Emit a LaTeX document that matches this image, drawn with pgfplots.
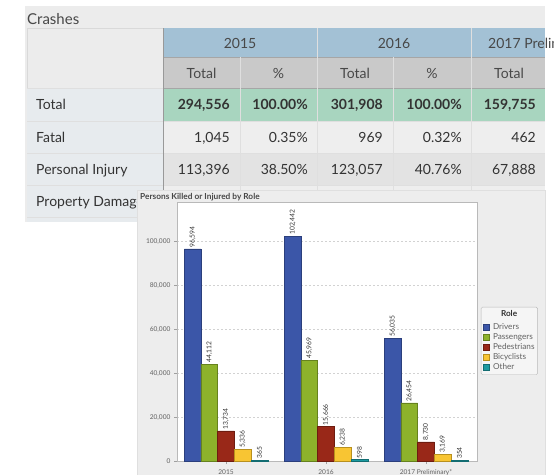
\documentclass[border=0pt]{standalone}
\usepackage{pgfplots}
\pgfplotsset{compat=1.18}
\usepackage{fontspec}
\setmainfont{Lato}
\definecolor{pnl}{HTML}{ECECEC}
\definecolor{pnltwo}{HTML}{EDEDED}
\definecolor{hblue}{HTML}{A3C1D5}
\definecolor{hgray}{HTML}{C9C9C9}
\definecolor{tgreen}{HTML}{A8D5BF}
\definecolor{lcol}{HTML}{E7EBEE}
\definecolor{rowa}{HTML}{EEEEEE}
\definecolor{rowb}{HTML}{E3E3E3}
\definecolor{txt}{HTML}{333333}
\definecolor{txth}{HTML}{484848}
\definecolor{cDrv}{HTML}{3B56A8}
\definecolor{cDrvD}{HTML}{2B3F7C}
\definecolor{cPas}{HTML}{8DB22B}
\definecolor{cPasD}{HTML}{66821E}
\definecolor{cPed}{HTML}{992818}
\definecolor{cPedD}{HTML}{6E1C10}
\definecolor{cBic}{HTML}{F8C533}
\definecolor{cBicD}{HTML}{B8901E}
\definecolor{cOth}{HTML}{1C9AA0}
\definecolor{cOthD}{HTML}{136D72}
\newcommand{\tfont}{\fontsize{14}{16}\selectfont}
\newcommand{\tcell}[3]{\node[anchor=base east,inner sep=0,text=txt,font=\tfont] at (#1,#2) {#3};}
\newcommand{\hcell}[3]{\node[anchor=base,inner sep=0,text=txth,font=\tfont] at (#1,#2) {#3};}
\pgfplotsset{sqleg/.style={legend image code/.code={\draw[##1,sharp corners,line width=0.4pt] (0pt,-3pt) rectangle (6pt,3pt);}}}
\begin{document}
\begin{tikzpicture}
\useasboundingbox (0,0) rectangle (554pt,-474pt);
\clip (0,0) rectangle (554pt,-474pt);
\fill[white] (0,0) rectangle (554pt,-474pt);
\begin{scope}[x=1pt,y=-1pt]
 \fill[pnl] (25,6) rectangle (545,222);
 \node[anchor=base west,inner sep=0,font=\fontsize{15}{18}\selectfont,text=txth] at (27,24) {Crashes};
 % cells
 \fill[pnl] (27,28) rectangle (163,88);
 \draw[gray!30,line width=0.6pt] (27,28) rectangle (163,88);
 \fill[hblue] (163,28) rectangle (545,57);
 \fill[hgray] (163,57) rectangle (545,88);
 \fill[tgreen] (163,88) rectangle (545,121);
 \fill[rowa] (163,121) rectangle (545,153);
 \fill[rowb] (163,153) rectangle (545,185);
 \fill[rowa] (163,185) rectangle (545,217);
 \fill[rowb] (163,217) rectangle (545,222);
 \fill[lcol] (27,88) rectangle (163,222);
 % lines
 \draw[gray!70,line width=0.8pt] (163,57) -- (545,57);
 \draw[gray!70,line width=0.8pt] (163,88) -- (545,88);
 \foreach \yy in {121,153,185,217} {\draw[gray!25,line width=0.6pt] (27,\yy) -- (545,\yy);}
 \draw[gray!25,line width=0.6pt] (27,88) -- (163,88);
 \foreach \xx in {317,471} {\draw[white!75!gray,line width=0.7pt] (\xx,28) -- (\xx,222);}
 \foreach \xx in {240,393} {\draw[white!75!gray,line width=0.7pt] (\xx,57) -- (\xx,222);}
 \draw[gray!80,line width=1pt] (163,28) -- (163,222);
 % header text
 \hcell{240}{48}{2015}
 \hcell{394}{48}{2016}
 \node[anchor=base west,inner sep=0,text=txth,font=\tfont] at (488,48) {2017 Preliminary*};
 \hcell{201.5}{78}{Total}
 \hcell{278.5}{78}{\%}
 \hcell{355}{78}{Total}
 \hcell{432}{78}{\%}
 \hcell{509}{78}{Total}
 % row labels
 \foreach \yy/\lab in {109.5/Total,142/Fatal,174/Personal Injury,206/Property Damage}
   {\node[anchor=base west,inner sep=0,text=txt,font=\tfont] at (36,\yy) {\lab};}
 % Total row
 \tcell{230}{109.5}{\textbf{294,556}}
 \tcell{308}{109.5}{\textbf{100.00\%}}
 \tcell{383}{109.5}{\textbf{301,908}}
 \tcell{462}{109.5}{\textbf{100.00\%}}
 \tcell{536}{109.5}{\textbf{159,755}}
 % Fatal
 \tcell{230}{142}{1,045}
 \tcell{308}{142}{0.35\%}
 \tcell{383}{142}{969}
 \tcell{462}{142}{0.32\%}
 \tcell{536}{142}{462}
 % Personal Injury
 \tcell{230}{174}{113,396}
 \tcell{308}{174}{38.50\%}
 \tcell{383}{174}{123,057}
 \tcell{462}{174}{40.76\%}
 \tcell{536}{174}{67,888}
 % chart panel
 \fill[pnltwo] (137,190) rectangle (545,480);
 \draw[gray!25,line width=0.5pt] (137,480) -- (137,190) -- (545,190) -- (545,480);
 \node[anchor=west,inner sep=0,text=txth,font=\fontsize{8.3}{9}\selectfont\bfseries] at (140,197) {Persons Killed or Injured by Role};
\end{scope}
\begin{axis}[
  at={(177pt,-461pt)}, anchor=south west,
  scale only axis, width=300pt, height=259pt,
  xmin=-0.49, xmax=2.51, ymin=0, ymax=118000,
  ybar=0pt, bar width=16.7pt,
  axis background/.style={fill=white},
  axis line style={draw=gray!55, line width=0.8pt},
  xtick={0,1,2}, xticklabels={2015,2016,2017 Preliminary*},
  ytick={0,20000,40000,60000,80000,100000},
  scaled y ticks=false,
  /pgf/number format/fixed,
  /pgf/number format/1000 sep={,},
  /pgf/number format/assume math mode=true,
  tick pos=left, tick align=outside, major tick length=3pt,
  tick style={gray!75, line width=0.5pt},
  ticklabel style={font=\fontsize{6.6}{7}\selectfont, text=black!62},
  xticklabel style={yshift=-2pt},
  ymajorgrids, grid style={gray!35, dash pattern=on 2pt off 2pt, line width=0.5pt},
  nodes near coords,
  every node near coord/.append style={rotate=90, anchor=west, font=\fontsize{6.7}{7}\selectfont, text=black!80, inner sep=1.2pt},
  legend cell align=left,
  legend style={at={(1.013,0.595)}, anchor=north west, draw=gray!55, fill=gray!8, rounded corners=1.5pt,
     font=\fontsize{8.2}{9}\selectfont, text=black!62, row sep=0.6pt, column sep=2.5pt, inner xsep=2pt, inner ysep=2.5pt,
     nodes={inner sep=1pt, text height=5.8pt, text depth=1.6pt}},
]
\addlegendimage{empty legend}
\addlegendentry[text depth=4.8pt]{\hspace*{8pt}\textcolor{black!80}{\textbf{Role}}}
\addplot[fill=cDrv, draw=cDrvD, line width=0.5pt, sqleg] coordinates {(0,96594) (1,102442) (2,56035)};
\addlegendentry{Drivers}
\addplot[fill=cPas, draw=cPasD, line width=0.5pt, sqleg] coordinates {(0,44112) (1,45969) (2,26454)};
\addlegendentry{Passengers}
\addplot[fill=cPed, draw=cPedD, line width=0.5pt, sqleg] coordinates {(0,13734) (1,15666) (2,8730)};
\addlegendentry{Pedestrians}
\addplot[fill=cBic, draw=cBicD, line width=0.5pt, sqleg] coordinates {(0,5336) (1,6238) (2,3169)};
\addlegendentry{Bicyclists}
\addplot[fill=cOth, draw=cOthD, line width=0.5pt, sqleg] coordinates {(0,365) (1,598) (2,354)};
\addlegendentry{Other}
\end{axis}
\end{tikzpicture}
\end{document}
